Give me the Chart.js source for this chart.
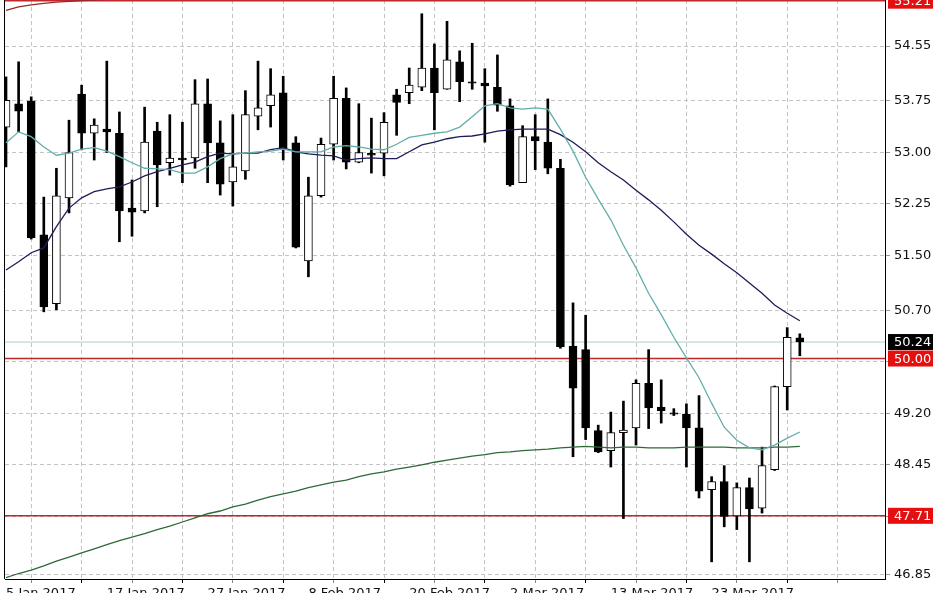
<!DOCTYPE html>
<html>
<head>
<meta charset="utf-8">
<script src="https://cdn.jsdelivr.net/npm/chart.js@4"></script>
<style>
html,body{margin:0;padding:0;background:#fff;overflow:hidden;}
#wrap{width:948px;height:593px;position:relative;}
</style>
</head>
<body>
<div id="wrap"><canvas id="c"></canvas></div>
<script>
// ---- data (daily candles, index 0 = 5 Jan 2017) ----
const tickLabels = ['5 Jan 2017','17 Jan 2017','27 Jan 2017','8 Feb 2017','20 Feb 2017','2 Mar 2017','13 Mar 2017','23 Mar 2017'];
const tickIndex  = [0, 8, 16, 24, 32, 40, 48, 56];

const open  = [53.37,53.71,53.75,51.80,50.80,52.34,53.85,53.28,53.34,53.28,52.19,52.15,53.31,52.85,52.92,52.92,
               53.71,53.14,52.57,52.73,53.53,53.68,53.87,53.14,51.42,52.37,53.12,53.79,52.86,52.99,52.99,53.84,
               53.87,53.95,54.23,53.92,54.32,54.03,54.01,53.95,53.68,52.56,53.23,53.15,52.77,50.18,50.13,48.95,
               48.66,48.92,48.99,49.64,49.29,49.21,49.19,48.99,48.09,48.21,47.71,48.12,47.82,48.38,49.59,50.30];
const high  = [54.10,54.32,53.81,52.35,52.77,53.47,53.98,53.49,54.33,53.59,52.60,53.66,53.44,53.55,53.44,54.06,
               54.07,53.46,53.55,53.90,54.33,54.22,54.11,53.23,52.64,53.21,54.11,53.94,53.71,53.50,53.58,53.92,
               54.23,55.02,54.58,54.91,54.48,54.59,54.22,54.42,53.78,53.39,53.55,53.78,52.90,50.81,50.63,49.03,
               49.22,49.38,49.69,50.13,49.69,49.27,49.34,49.46,48.28,48.44,48.19,48.26,48.71,49.60,50.45,50.36];
const low   = [52.79,53.30,51.74,50.68,50.71,52.12,53.04,52.89,53.00,51.70,51.78,52.12,52.21,52.67,52.56,52.77,
               52.56,52.38,52.22,52.61,53.33,53.37,52.89,51.61,51.19,52.35,52.89,52.76,52.85,52.70,52.66,53.25,
               53.71,53.90,53.33,53.92,53.74,53.92,53.15,53.60,52.51,52.56,52.75,52.69,50.15,48.57,48.82,48.63,
               48.42,47.67,48.74,48.98,49.06,49.17,48.42,47.97,47.04,47.55,47.51,47.04,47.75,48.37,49.25,50.04];
const close = [53.76,53.60,51.76,50.75,52.37,53.00,53.28,53.40,53.30,52.15,52.13,53.15,52.82,52.92,52.89,53.71,
               53.14,52.54,52.79,53.55,53.65,53.84,53.06,51.62,52.37,53.12,53.79,52.86,53.00,52.96,53.44,53.73,
               53.98,54.23,53.87,54.35,54.03,54.01,53.97,53.69,52.53,53.23,53.17,52.77,50.17,49.57,48.99,48.64,
               48.92,48.96,49.64,49.28,49.24,49.19,48.99,48.07,48.21,47.70,48.12,47.81,48.44,49.59,50.31,50.24];

const maFast = [53.14,53.30,53.23,53.08,52.96,52.99,53.05,53.07,53.02,52.94,52.85,52.77,52.76,52.75,52.70,52.70,
                52.79,52.91,52.98,52.99,53.01,53.02,53.05,53.01,53.01,53.01,53.08,53.10,53.08,53.05,53.04,53.12,
                53.22,53.25,53.28,53.30,53.37,53.52,53.68,53.71,53.65,53.63,53.65,53.63,53.34,53.02,52.64,52.32,
                52.02,51.65,51.32,50.95,50.64,50.31,50.01,49.72,49.35,49.00,48.81,48.70,48.67,48.74,48.84,48.93];
const maSlow = [51.29,51.41,51.54,51.61,51.92,52.19,52.34,52.43,52.47,52.50,52.57,52.66,52.72,52.77,52.82,52.86,
                52.94,52.99,52.98,52.99,52.99,53.04,53.07,53.01,52.98,52.96,52.95,52.89,52.91,52.92,52.91,52.91,
                53.01,53.11,53.15,53.20,53.23,53.24,53.27,53.31,53.33,53.34,53.34,53.34,53.26,53.15,53.01,52.85,
                52.72,52.60,52.45,52.31,52.16,51.99,51.81,51.65,51.52,51.38,51.25,51.10,50.95,50.78,50.66,50.55];
const maLong = [46.81,46.87,46.92,46.98,47.05,47.11,47.17,47.23,47.29,47.35,47.40,47.45,47.51,47.56,47.62,47.68,
                47.74,47.78,47.84,47.88,47.94,47.99,48.03,48.07,48.12,48.16,48.20,48.23,48.28,48.32,48.35,48.39,
                48.42,48.45,48.49,48.52,48.55,48.58,48.60,48.63,48.64,48.66,48.67,48.68,48.70,48.71,48.72,48.71,
                48.70,48.71,48.71,48.70,48.70,48.70,48.71,48.71,48.71,48.71,48.70,48.70,48.70,48.71,48.71,48.72];
const maTop  = [55.07,55.12,55.15,55.17,55.19,55.20,55.21,55.22,55.23,55.24,55.25,55.26,55.27];

const levels   = [55.21, 50.00, 47.71];
const bidPrice = 50.24;
const yTicks   = [46.85,47.70,48.45,49.20,49.95,50.70,51.50,52.25,53.00,53.75,54.55];

// ---- chart ----
const X_MIN = -0.08, X_MAX = 69.76, Y_MIN = 46.79, Y_MAX = 55.22;
const idx = open.map((_, i) => i);
const pts = arr => arr.map((v, i) => ({x: i, y: v}));
const hline = v => [{x: X_MIN, y: v}, {x: X_MAX, y: v}];

Chart.defaults.font.family = 'DejaVu Sans';
Chart.defaults.font.size = 13;
Chart.defaults.color = '#111';

const datasets = [];
levels.forEach(v => datasets.push({type:'line', data:hline(v), borderColor:'#c0282d', borderWidth:1.6,
  pointRadius:0, order:6, clip:3}));
datasets.push({type:'line', data:hline(bidPrice), borderColor:'#a9cfcf', borderWidth:1, pointRadius:0, order:6});
datasets.push({type:'bar', data: idx.map(i => ({x:i, y:[low[i], high[i]]})), backgroundColor:'#000',
  barThickness:2, grouped:false, order:4});
datasets.push({type:'bar', data: idx.map(i => ({x:i, y:[open[i], close[i]]})),
  backgroundColor: idx.map(i => close[i] >= open[i] ? '#ffffff' : '#000000'),
  borderColor:'#000', borderWidth:1, borderSkipped:false, barThickness:8, grouped:false, order:3});
datasets.push({type:'line', data:pts(maLong), borderColor:'#2e6a35', borderWidth:1.3, pointRadius:0, order:1});
datasets.push({type:'line', data:pts(maTop), borderColor:'#9a2828', borderWidth:1.3, pointRadius:0, order:1});
datasets.push({type:'line', data:pts(maSlow), borderColor:'#1d1d5a', borderWidth:1.3, pointRadius:0, order:1});
datasets.push({type:'line', data:pts(maFast), borderColor:'#62aeaa', borderWidth:1.3, pointRadius:0, order:0});

const framePlugin = {
  id:'frame',
  beforeDatasetsDraw(chart){
    const {ctx, chartArea:a} = chart;
    ctx.save(); ctx.strokeStyle='#000'; ctx.lineWidth=1;
    ctx.beginPath(); ctx.moveTo(a.left-0.5, a.top); ctx.lineTo(a.left-0.5, a.bottom); ctx.stroke();
    ctx.restore();
  },
  afterDraw(chart){
    const {ctx, chartArea:a} = chart; const ys = chart.scales.y;
    const badges = [{v:bidPrice, bg:'#000'}].concat(levels.map(v => ({v, bg:'#e41010'})));
    ctx.save();
    ctx.font = '13px "DejaVu Sans"'; ctx.textBaseline='middle'; ctx.textAlign='left';
    badges.forEach(b => {
      const y = ys.getPixelForValue(b.v);
      ctx.fillStyle = b.bg; ctx.fillRect(a.right+3, y-8, 45, 16);
      ctx.fillStyle = '#fff'; ctx.fillText(b.v.toFixed(2), a.right+9, y+1);
    });
    ctx.restore();
  }
};

new Chart(document.getElementById('c'), {
  type:'bar',
  data:{datasets},
  plugins:[framePlugin],
  options:{
    responsive:true, maintainAspectRatio:false, animation:false,
    layout:{padding:{left:5, top:0, right:0, bottom:0}},
    plugins:{legend:{display:false}, tooltip:{enabled:false}},
    scales:{
      x:{type:'linear', min:X_MIN, max:X_MAX, offset:false,
        afterBuildTicks: s => { const t=[]; for(let i=0;i<=68;i+=4) t.push({value:i}); s.ticks=t; },
        afterFit: s => { s.height = 14; s.paddingLeft = 0; s.paddingRight = 0; },
        grid:{color:'#c4c4c4', tickLength:4, tickColor: c => (c.tick && c.tick.value % 8 === 0) ? '#000' : '#888',
              tickBorderDash:[]},
        border:{display:true, color:'#000', width:1, dash:[4,3]},
        ticks:{autoSkip:false, maxRotation:0, align:'start', padding:3, color:'#111',
          callback: v => { const k = tickIndex.indexOf(v); return k >= 0 ? tickLabels[k] : ''; }}
      },
      y:{type:'linear', position:'right', min:Y_MIN, max:Y_MAX,
        afterBuildTicks: s => { s.ticks = yTicks.map(v => ({value:v})); },
        afterFit: s => { s.width = 63; s.paddingTop = 0; s.paddingBottom = 0; },
        grid:{color:'#c4c4c4', tickLength:5, tickColor:'#999', tickBorderDash:[]},
        border:{display:true, color:'#000', width:1, dash:[4,3]},
        ticks:{padding:4, color:'#111', callback: v => Number(v).toFixed(2)}
      }
    }
  }
});
</script>
</body>
</html>
